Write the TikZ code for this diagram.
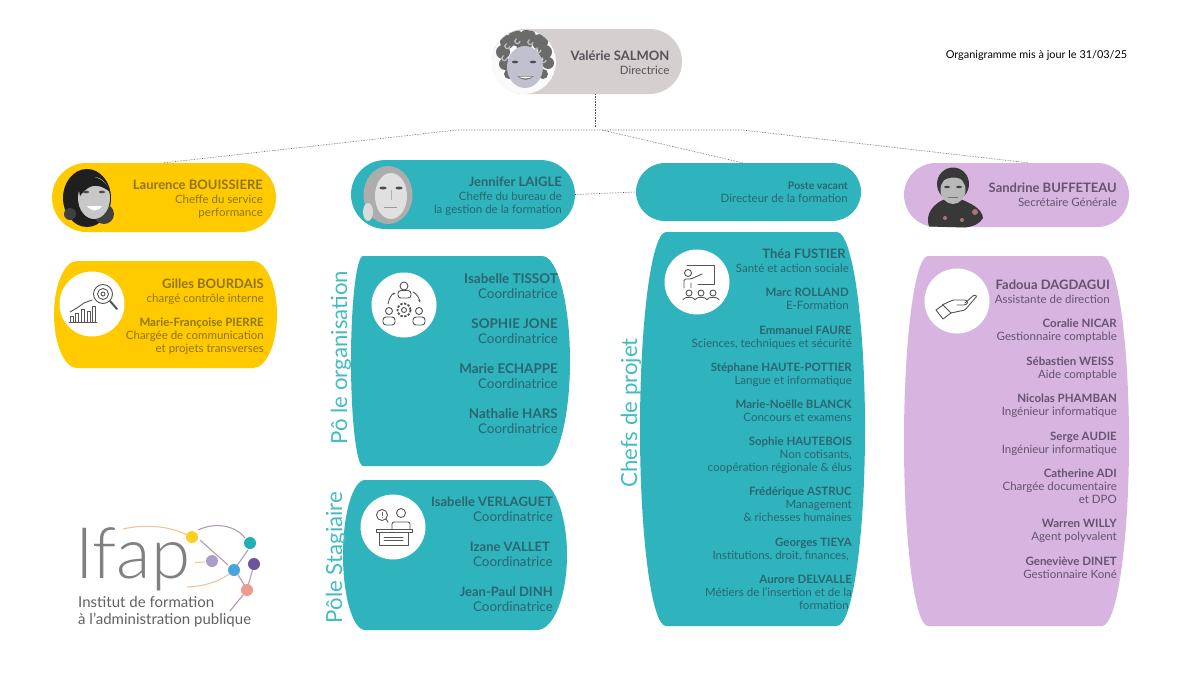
\documentclass[tikz,border=0pt]{standalone}
\usepackage{fontspec}
\setmainfont{Lato}
\newfontfamily\thinfont{Lato Light}
\usetikzlibrary{shapes.misc,positioning,arrows.meta}
\definecolor{tealpill}{HTML}{2FB3BC}
\definecolor{goldpill}{HTML}{FFCA00}
\definecolor{mauvepill}{HTML}{D7B5E0}
\definecolor{greypill}{HTML}{D5CFCF}
\definecolor{tealink}{HTML}{2B6672}
\definecolor{goldink}{HTML}{8F7414}
\definecolor{mauveink}{HTML}{65536F}
\definecolor{greyink}{HTML}{55535A}
\definecolor{iconink}{HTML}{555555}
\tikzset{
	pill/.style       = {shape=rounded rectangle, inner sep=0pt},
	roundel/.style    = {shape=circle, minimum size=65, inner sep=0pt, fill=white},
	person/.style     = {align=right, anchor=base east, inner sep=0pt, font=\fontsize{11.5}{12.6}\selectfont},
	personbig/.style  = {person, font=\fontsize{13.4}{15}\selectfont},
	polelabel/.style  = {rotate=90, inner sep=0pt, text=tealpill!90!white, font=\fontsize{22.2}{24}\selectfont},
	link/.style       = {densely dotted, draw=iconink, line width=.6pt},
	icon/.style       = {draw=iconink, line width=.9pt, line join=round, line cap=round}
}
\newcommand{\who}[1]{{\bfseries\fontsize{13}{13}\selectfont #1}\\[1.4pt]}
\newcommand{\whosmall}[1]{{\bfseries #1}\\}
\newcommand{\tsp}{\hspace*{3pt}}
% fill, left, top, right, bottom, left bulge, right bulge
\newcommand{\barrel}[7]{
	\fill[#1] ({#2+#6},#3) -- ({#4-#7},#3)
		.. controls ({#4-.45*#7},#3) and (#4,{#3+.225*(#5-#3)}) .. (#4,{.5*(#3+#5)})
		.. controls (#4,{#5-.225*(#5-#3)}) and ({#4-.45*#7},#5) .. ({#4-#7},#5)
		-- ({#2+#6},#5)
		.. controls ({#2+.45*#6},#5) and (#2,{#5-.225*(#5-#3)}) .. (#2,{.5*(#3+#5)})
		.. controls (#2,{#3+.225*(#5-#3)}) and ({#2+.45*#6},#3) .. ({#2+#6},#3) -- cycle;
}
\begin{document}
\begin{tikzpicture}[x=1pt,y=-1pt]
	\useasboundingbox (0,0) rectangle (1200,675);
	% top row
	\node [pill, fill=greypill, minimum width=190, minimum height=65] (direction) at (587,61.5) {};
	\node [pill, fill=goldpill, minimum width=224, minimum height=69] (perf) at (164,197.5) {};
	\node [pill, fill=tealpill, minimum width=224, minimum height=69] (bureau) at (463,194.5) {};
	\node [pill, fill=tealpill, minimum width=225, minimum height=58] (vacant) at (748.5,192) {};
	\node [pill, fill=mauvepill, minimum width=225, minimum height=64] (secretariat) at (1016.5,195) {};
	\node (miseajour) at (1036.5,55.5) {\fontsize{10.9}{12}\selectfont Organigramme mis à jour le 31/03/25};
	% cards
	\barrel{goldpill}{54}{261}{277}{368}{23}{24}
	\barrel{tealpill}{351}{256}{570}{466}{12}{28}
	\barrel{tealpill}{343}{480}{567}{630}{22}{30}
	\barrel{tealpill}{640}{232}{865}{626}{26}{28}
	\barrel{mauvepill}{904}{256}{1129}{626}{24}{27}
	% links
	\coordinate (busdrop) at (595,127);
	\coordinate (busleft) at (457,130);
	\coordinate (busmid) at (602,130);
	\coordinate (busright) at (742,130);
	\draw[link] ([xshift=8]direction.south) -- (busdrop);
	\draw[link] (perf.north) -- (busleft) -- (busright) -- ([xshift=11.5]secretariat.north);
	\draw[link] (busmid) -- ([xshift=-6]vacant.north);
	\draw[link] (bureau.east) -- (vacant.west);
	% pole titles
	\node [polelabel] (poleorga) at (341,357.5) {Pô le organisation};
	\node [polelabel] (polestag) at (336,557.5) {Pôle Stagiaire};
	\node [polelabel] (polechefs) at (631,413) {Chefs de projet};
	% photos
	\begin{scope}
		\clip (524,62) circle (32);
		\fill[white!90!greypill] (524,62) circle (32);
		\foreach \hx/\hy/\hr in {503/52/7,507/42/7,516/38/8,528/37/8,540/42/8,545/52/7,548/63/6,505/64/6,509/74/5,543/74/5,524/44/8}
			\fill[black!58] (\hx,\hy) circle (\hr);
		\foreach \hx/\hy in {510/46,520/41,533/42,541/50,507/58,546/60}
			\draw[white!75!black, line width=1.2pt] (\hx,\hy) arc (0:250:2.6);
		\fill[black!20!blue!8!white!82!black] (525,67) ellipse (18 and 21);
		\fill[black!70] (515,62) ellipse (3 and 1.3) (533,62) ellipse (3 and 1.3);
		\fill[black!55] (517,76) .. controls (522,81) and (529,81) .. (534,76) -- cycle;
		\fill[white] (518.5,76.5) .. controls (522,79) and (529,79) .. (532.5,76.5) -- cycle;
	\end{scope}
	\begin{scope}
		\fill[black!88] (87,198) ellipse (24 and 29);
		\fill[black!75] (104,214) circle (10) (70,214) circle (6);
		\fill[black!22] (94,198) ellipse (16 and 21);
		\fill[black!88] (77,180) .. controls (90,172) and (106,178) .. (110,192) .. controls (100,184) and (90,182) .. (80,196) -- cycle;
		\fill[black!70] (86,192) ellipse (3 and 1.3) (102,192) ellipse (3 and 1.3);
		\fill[white] (87,206) .. controls (92,212) and (98,212) .. (102,206) -- cycle;
	\end{scope}
	\begin{scope}
		\fill[black!32] (388,195) ellipse (24.5 and 29);
		\fill[black!14] (368,212) ellipse (5 and 9);
		\fill[black!12] (391,196) ellipse (16 and 23);
		\fill[black!70] (383,188) ellipse (3.5 and 1.5) (399,188) ellipse (3.5 and 1.5);
		\draw[black!40, line width=.8pt] (384,207) -- (397,207);
		\draw[black!30, line width=.6pt] (391,190) -- (391,200);
	\end{scope}
	\begin{scope}
		\fill[black!78] (929,226.5) .. controls (925,215) and (932,203) .. (948,198) -- (958,198) .. controls (970,203) and (982,208) .. (983,218) .. controls (980,224) and (972,227) .. (965,227.5) -- cycle;
		\fill[black!78] (953,184) ellipse (16 and 16.5);
		\fill[black!28] (953,190) ellipse (12.5 and 14);
		\fill[black!78] (940,182) .. controls (945,172) and (961,172) .. (966,182) .. controls (958,176) and (950,176) .. (940,182) -- cycle;
		\fill[black!75] (947,187) ellipse (3 and 1.2) (959,187) ellipse (3 and 1.2);
		\draw[black!55, line width=.7pt] (948,197) -- (958,197);
		\fill[red!40!black!55] (975,212) circle (3) (945,218) circle (2) (962,220) circle (2);
	\end{scope}
	% icons
	\node [roundel] (iconperf) at (92,304) {};
	\node [roundel] (iconorga) at (404,305) {};
	\node [roundel] (iconstag) at (393,527) {};
	\node [roundel] (iconchefs) at (697,282) {};
	\node [roundel] (iconsecr) at (957,301) {};
	% performance
	\draw[icon] (69,322) -- (97,322);
	\foreach \bx/\by in {70/316,75/313,81/309,87/311,92/306}
		\draw[icon] (\bx,322) rectangle ({\bx+3.6},\by);
	\draw[icon] (70,312) -- (77,308) -- (84,303) -- (92,300);
	\draw[icon] (103,294) circle (9.5) (103,294) circle (5.5) (103,294) circle (2);
	\draw[icon, line width=2pt] (110,301) -- (117,309);
	% organisation
	\draw[icon] (404,286) circle (4);
	\draw[icon, rounded corners=3] (398,298) rectangle (411,290.5);
	\draw[icon] (389,311) circle (3.5) (419,311) circle (3.5);
	\draw[icon, rounded corners=3] (383,325) rectangle (395,317);
	\draw[icon, rounded corners=3] (413,325) rectangle (425,317);
	\draw[icon] (404,310) circle (2.5);
	\draw[icon, dash pattern=on 2.4pt off 1.4pt, line width=1.8pt, line cap=butt] (404,310) circle (6.5);
	\draw[icon, -{Latex[length=3pt]}] (388,304) .. controls (389,298) and (392,294) .. (396,293);
	\draw[icon, -{Latex[length=3pt]}] (413,292) .. controls (417,294) and (419,298) .. (420,303);
	% stagiaire
	\draw[icon] (401,513) circle (4.5);
	\draw[icon, rounded corners=2] (392,529) -- (392,522) -- (410,522) -- (410,529);
	\draw[icon] (376,529) rectangle (412,532.5);
	\draw[icon] (379,532.5) rectangle (408,545);
	\draw[icon] (384,537) -- (403,537) (384,540.5) -- (403,540.5);
	\draw[icon] (382,515) circle (5.5);
	\draw[icon] (386,519) -- (388,522);
	\draw[icon] (382,512.5) -- (382,515.5) (382,517.5) -- (382,517.6);
	% chefs
	\draw[icon] (687,265) -- (714,265) -- (714,284) -- (698,284);
	\draw[icon] (688,273) circle (3.5);
	\draw[icon, rounded corners=1.5] (684,288) -- (684,279) -- (691,279) -- (702,274) (691,283) -- (691,288);
	\foreach \hx in {689,701,713} {
		\draw[icon] (\hx,293) circle (3);
		\draw[icon] ({\hx-6},299.5) .. controls ({\hx-4},296.5) and ({\hx+4},296.5) .. ({\hx+6},299.5);
	}
	% secretariat
	\draw[icon] (936,310) -- (943,305) -- (951,313) -- (943,319) -- cycle;
	\draw[icon, rounded corners=1] (942,305) -- (953,300) -- (966,300) -- (968,303) -- (965,305) -- (957,305);
	\draw[icon, rounded corners=1] (951,313) -- (965,310) -- (977,296) -- (974,295) -- (965,303);
	% people, the node's base is its last line
	\node [person, text=greyink] (salmon) at (669.5,74) {\who{Valérie SALMON}Directrice};
	\begin{scope}[person/.append style={text=goldink}]
		\node [person] (bouissiere) at (263,216) {\who{Laurence BOUISSIERE}Cheffe du service\tsp\\performance};
		\node [person] (bourdais) at (264,302) {\who{Gilles BOURDAIS}chargé contrôle interne};
		\node [person] (pierre) at (264,352) {\whosmall{Marie-Françoise PIERRE}Chargée de communication\tsp\\et projets transverses};
	\end{scope}
	\begin{scope}[person/.append style={text=tealink}]
		\node [person] (laigle) at (562,213) {\who{Jennifer LAIGLE}Cheffe du bureau de\tsp\\la gestion de la formation};
		\node [person] (poste) at (848,202) {{\bfseries\fontsize{10.5}{12}\selectfont Poste vacant}\\Directeur de la formation};
		% pole organisation
		\foreach \pid/\py/\pname in {tissot/298.5/Isabelle TISSOT,jone/343.5/SOPHIE JONE,echappe/388.5/Marie ECHAPPE,hars/433.5/Nathalie HARS}
			\node [personbig] (\pid) at (558,\py) {{\bfseries \pname}\\Coordinatrice};
		% pole stagiaire
		\foreach \pid/\py/\pname in {verlaguet/521.5/Isabelle VERLAGUET,vallet/566.5/Izane VALLET\tsp,dinh/611.5/Jean-Paul DINH}
			\node [personbig] (\pid) at (553,\py) {{\bfseries\fontsize{13}{15}\selectfont \pname}\\Coordinatrice};
		% chefs de projet
		\node [person] (fustier) at (849,272) {\who{Théa FUSTIER\tsp}Santé et action sociale};
		\node [person] (rolland) at (849,309) {\whosmall{Marc ROLLAND}E-Formation};
		\node [person] (faure) at (852,347) {\whosmall{Emmanuel FAURE}Sciences, techniques et sécurité};
		\node [person] (pottier) at (852,384) {\whosmall{Stéphane HAUTE-POTTIER}Langue et informatique};
		\node [person] (blanck) at (852,421) {\whosmall{Marie-Noëlle BLANCK}Concours et examens};
		\node [person] (hautebois) at (852,471) {\whosmall{Sophie HAUTEBOIS}Non cotisants,\tsp\\coopération régionale \& élus};
		\node [person] (astruc) at (852,521) {\whosmall{Frédérique ASTRUC}Management\tsp\\\& richesses humaines};
		\node [person] (tieya) at (852,559) {\whosmall{Georges TIEYA}Institutions, droit, finances,\tsp};
		\node [person] (delvalle) at (852,609) {\whosmall{Aurore DELVALLE}Métiers de l'insertion et de la\\formation\tsp};
	\end{scope}
	\begin{scope}[person/.append style={text=mauveink}]
		\node [person] (buffeteau) at (1117,206) {\who{Sandrine BUFFETEAU}Secrétaire Générale};
		\node [person] (dagdagui) at (1110,303) {\who{Fadoua DAGDAGUI}Assistante de direction};
		\node [person] (nicar) at (1117,340) {\whosmall{Coralie NICAR}Gestionnaire comptable};
		\node [person] (weiss) at (1117,378) {\whosmall{Sébastien WEISS\tsp}Aide comptable};
		\node [person] (phamban) at (1117,415) {\whosmall{Nicolas PHAMBAN}Ingénieur informatique};
		\node [person] (audie) at (1117,453) {\whosmall{Serge AUDIE}Ingénieur informatique};
		\node [person] (adi) at (1117,503) {\whosmall{Catherine ADI}Chargée documentaire\tsp\\et DPO};
		\node [person] (willy) at (1117,540) {\whosmall{Warren WILLY}Agent polyvalent};
		\node [person] (dinet) at (1117,578) {\whosmall{Geneviève DINET}Gestionnaire Koné};
	\end{scope}
	% logo
	\node [anchor=base west, inner sep=0pt, text=black!50] (ifap) at (75,578) {\thinfont\fontsize{71}{72}\selectfont Ifap};
	\node [anchor=base west, inner sep=0pt, text=black!62, align=left, font=\fontsize{15}{17}\selectfont] (ifaptext) at (78,624) {Institut de formation\\à l'administration publique};
	\draw[orange!35!brown!45!white, line width=1.1pt] (123,529) .. controls (145,524) and (170,526) .. (187,535);
	\draw[violet!30!gray!60!white, line width=1.1pt] (198,530) .. controls (215,522) and (235,525) .. (245,538);
	\draw[violet!30!gray!60!white, line width=1.1pt] (200,540) -- (228,565);
	\draw[orange!35!brown!45!white, line width=1.1pt] (195,562.5) -- (205,562);
	\draw[orange!35!brown!45!white, line width=1.1pt] (187,587) .. controls (205,586) and (218,582) .. (229,574);
	\draw[violet!30!gray!60!white, line width=1.1pt] (248,550) -- (236,567) (238,575) -- (245,586) (252.5,570) -- (248,586);
	\draw[violet!40!gray!60!white, line width=1.1pt] (243,595) -- (230,611);
	\foreach \dname/\dx/\dy/\dcol in {dotyellow/192/537/FFCE1F,dotteal/250/543/1FAFB5,dotlilac/212/561/A99DCB,dotpurple/254/564/6B53A0,dotblue/234/570/4AA3DC,dotsalmon/247/590/EE9A8C} {
		\definecolor{dotcol}{HTML}{\dcol}
		\node [circle, fill=dotcol, minimum size=12, inner sep=0pt] (\dname) at (\dx,\dy) {};
	}
\end{tikzpicture}
\end{document}
